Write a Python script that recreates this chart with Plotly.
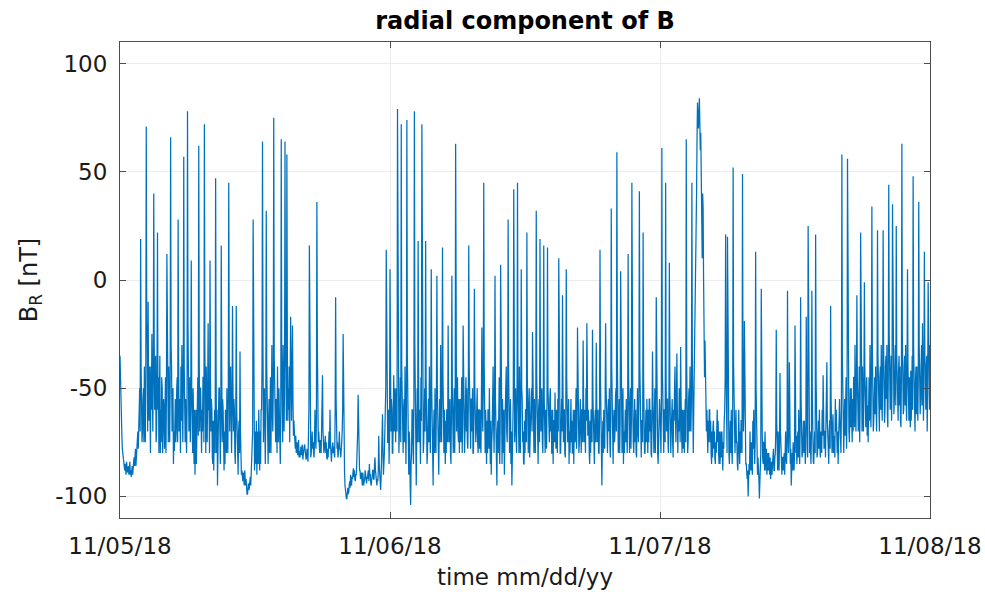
import pandas as pd
import plotly.graph_objects as go

day1_br = [
    -35,-50,-60,-70,-72,-78,-80,-83,-84,-86,-88,-85,-87,-90,-84,-88,-89,-87,-86,-90,-86,-84,-90,-88,
    -91,-89,-86,-90,-88,-85,-82,-86,-80,-78,-86,-82,-84,-75,-70,-78,-65,-72,-50,-70,19,-40,-60,-75,
    -70,-55,-50,-75,-40,-65,-75,-45,71,-20,-30,-70,-10,-55,-65,-40,-60,-80,-40,-60,-25,-50,-70,-45,
    40,-30,-60,-45,-35,-75,-70,-40,22,-60,-45,-80,-55,-35,-80,-60,-75,-45,-50,-80,-72,-55,-60,-78,
    -60,-45,-80,-55,12,-40,-55,-75,-40,-60,-75,-50,66,-30,-40,-70,-65,-50,-85,-70,-79,-60,-55,-75,
    -70,-50,-45,-75,28,-35,-70,-55,-60,-80,-40,-65,-30,-55,-75,-50,57,-40,-60,-75,-55,-80,-80,-60,
    78,-20,-40,-70,-60,-45,-75,-55,9,-50,-65,-80,-50,-70,-85,-60,-90,-75,-60,-85,-70,-50,-45,-72,
    62,-35,-70,-50,-50,-75,-80,-60,-70,-45,-45,-75,72,-30,-60,-80,-40,-65,-75,-50,-20,-60,-60,-80,
    9,-45,-70,-55,-60,-82,-85,-65,-88,-70,-60,-80,47,-40,-80,-60,-95,-75,-70,-50,-50,-75,-85,-65,
    16,-40,-75,-55,-60,-80,-88,-70,-85,-60,-65,-80,-50,-70,-80,-55,45,-35,-70,-50,-40,-75,-80,-60,
    -12,-50,-70,-55,-60,-80,-85,-65,-12,-60,-75,-85,-90,-70,-65,-80,-33,-70,-85,-90,-88,-92,-93,-89,
    -92,-95,-88,-94,-95,-92,-97,-99,-99,-95,-94,-97,-96,-93,-91,-95,-90,-86,-80,-70,28,-50,-75,-88,
    -70,-80,-85,-65,-90,-75,-70,-85,-60,-75,-88,-70,-85,-60,-60,-40,64,-30,-75,-55,-50,-80,-85,-60,
    32,-40,-70,-55,-85,-65,-55,-80,-60,-45,-80,-65,-30,-60,-70,-50,75,-35,-50,-70,-75,-55,-60,-80,
    -40,-65,-75,-50,-60,-80,-85,-60,65,-35,-55,-75,-30,-60,-70,-50,64,-40,-40,-65,58,-30,-65,-50,
    -60,-40,-75,-50,-17,-45,-65,-40,-21,-55,-72,-65,-70,-76,-78,-72,-80,-76,-75,-81,-78,-74,-82,-79,
    -82,-78,-77,-81,-79,-76,-83,-80,-81,-77,-76,-80,-78,-83,-82,-78,-80,-84,-75,-60,16,-50,-78,-82,
    -80,-76,-70,-78,-75,-80,-82,-74,-60,-72,-78,-65,36,-30,-65,-75,-70,-78,-80,-74,-76,-80,-70,-60,
    -44,-70,-76,-80,-78,-74,-72,-80,-75,-82,-83,-78,-82,-76,-70,-78,-60,-75,-80,-84,-80,-76,-75,-80,
    -77,-80,-82,-60,-8,-55,-72,-78,-75,-82,-80,-76,-70,-78,-78,-82,-80,-75,-70,-60,-25,-65,-80,-88,
    -95,-98,-99,-101,-101,-97,-96,-99,-98,-95,-93,-96,-90,-94,-95,-91,-92,-89,-87,-91,-88,-92,-93,-90,
    -90,-85,-80,-70,-53,-75,-82,-88,-88,-92,-91,-89,-93,-95,-89,-92,-95,-93,-92,-88,-90,-94,-94,-91,
    -92,-89,-88,-93,-85,-90,-90,-94,-95,-92,-91,-88,-88,-92,-92,-85,-82,-88,-90,-94,-95,-92,-93,-88,
    -72,-85,-88,-94,-97,-92,-85,-75,-62,-80,-90,-85,-80,-70,-70,-50,14,-40,-60,-75,-75,-60,-85,-70,
]
day2_br = [
    5,-40,-70,-55,-60,-80,-80,-60,-44,-70,-65,-50,-75,-60,-50,-70,79,-30,-60,-80,-70,-50,-45,-75,
    72,-40,-65,-80,-80,-60,-55,-75,-40,-65,-85,-60,74,-35,-60,-85,-90,-70,-75,-95,-104,-85,-80,-60,
    -60,-75,-85,-55,78,-30,-70,-85,-95,-70,-50,-75,18,-45,-75,-60,-70,-85,-45,-65,72,-35,-65,-80,
    -75,-55,-50,-70,18,-45,-70,-85,-80,-60,-55,-75,-40,-65,-80,-55,5,-50,-70,-85,-95,-70,-60,-80,
    -50,-70,-80,-55,2,-50,-65,-85,-90,-70,-55,-75,-30,-60,-75,-50,15,-45,-65,-80,-60,-75,-85,-65,
    -80,-60,-60,-75,-21,-55,-75,-60,-55,-80,-85,-65,2,-50,-70,-80,-65,-50,-80,-60,63,-35,-70,-55,
    -45,-70,-75,-55,-80,-60,-55,-75,-60,-45,-80,-65,-21,-55,-65,-80,-70,-50,-45,-70,-50,-75,-78,-60,
    16,-40,-60,-75,-78,-55,-55,-70,-50,-80,-80,-60,-4,-50,-65,-75,-70,-55,-50,-75,-80,-60,-60,-78,
    -60,-75,-80,-55,-22,-60,-70,-50,45,-40,-65,-80,-60,-75,-85,-65,-80,-60,-60,-78,-50,-70,-85,-65,
    -90,-75,-70,-55,-40,-65,-80,-60,2,-55,-75,-85,-95,-70,-65,-80,-60,-45,-85,-70,7,-50,-70,-85,
    -55,-75,-80,-60,-90,-75,-60,-45,-40,-70,-75,-55,28,-40,-60,-80,-70,-55,-85,-70,-95,-80,-70,-55,
    42,-40,-75,-60,-50,-70,-80,-55,45,-45,-60,-80,-40,-65,-80,-60,5,-50,-55,-75,-70,-85,-85,-65,
    -80,-60,-60,-75,22,-45,-65,-80,-60,-50,-82,-65,-75,-55,-50,-70,-24,-55,-70,-80,-55,-70,-80,-60,
    32,-45,-65,-80,-85,-60,-55,-75,19,-50,-70,-55,-50,-75,-80,-60,16,-55,-65,-80,-60,-70,-78,-55,
    15,-50,-60,-75,-75,-55,-50,-70,-60,-80,-80,-60,-85,-65,-65,-75,-52,-70,-78,-60,-70,-80,-55,-70,
    10,-50,-65,-80,-80,-60,-55,-70,-7,-50,-75,-60,-60,-80,-82,-65,5,-45,-60,-75,-70,-55,-85,-70,
    -80,-60,-55,-75,-65,-80,-80,-60,-85,-70,-60,-75,-60,-50,-78,-65,-22,-55,-65,-80,-75,-60,-55,-70,
    -80,-60,-60,-75,-28,-55,-75,-60,-70,-80,-50,-65,-20,-50,-72,-60,-65,-80,-85,-65,-80,-60,-60,-75,
    -23,-55,-70,-80,-85,-65,-60,-75,-29,-55,-75,-60,-60,-80,-80,-65,14,-45,-70,-80,-95,-75,-65,-80,
    -60,-75,-78,-55,-20,-50,-65,-80,-80,-60,-55,-70,-50,-75,-82,-65,33,-40,-65,-80,-85,-65,-60,-75,
    -70,-55,-50,-70,59,-35,-60,-80,-70,-55,-80,-65,4,-50,-65,-80,-65,-50,-85,-70,-80,-60,-60,-75,
    -55,-70,-80,-60,12,-45,-70,-80,-60,-50,-78,-65,45,-40,-60,-75,-80,-65,-55,-75,-60,-80,-82,-65,
    -50,-70,-75,-55,41,-40,-60,-80,-82,-65,-65,-75,22,-45,-70,-80,-80,-60,-60,-75,-55,-70,-80,-60,
    -75,-55,-55,-70,-60,-80,-82,-65,-33,-55,-70,-80,-65,-50,-80,-65,-8,-50,-65,-80,-85,-70,-70,-55,
]
day3_br = [
    -60,-75,-80,-60,61,-40,-65,-80,-80,-60,-60,-75,45,-45,-70,-55,-55,-75,-80,-60,8,-50,-65,-80,
    -70,-55,-55,-75,-82,-60,-65,-50,-40,-65,-75,-55,-34,-60,-80,-65,-70,-50,-55,-75,-31,-55,-70,-80,
    -60,-75,-78,-60,-80,-65,-55,-75,65,-40,-60,-80,-75,-55,-50,-70,-40,-60,-70,-55,45,-35,-65,-80,
    -60,-45,-40,-20,5,20,40,65,82,75,70,80,84,72,60,68,55,30,10,40,33,0,-20,-45,
    -28,-50,-55,-70,-60,-78,-80,-65,-75,-60,-60,-75,-65,-80,-85,-70,-82,-68,-65,-78,-70,-82,-85,-75,
    -80,-70,-60,-75,-65,-80,-85,-70,-85,-78,-70,-82,-70,-85,-88,-75,-78,-65,-60,-45,21,-40,-70,-80,
    20,-45,-70,-80,-85,-70,-65,-80,-60,-75,-85,-70,52,-40,-65,-80,-80,-70,-60,-75,-75,-85,-88,-78,
    -60,-75,-85,-70,-80,-65,-65,-80,49,-40,-70,-60,-19,-60,-75,-85,-85,-90,-92,-88,-100,-92,-85,-90,
    -70,-82,-88,-75,-85,-90,-65,-78,-60,-80,-85,-75,13,-50,-75,-85,-90,-82,-85,-92,-101,-90,-88,-80,
    -4,-60,-70,-82,-85,-75,-75,-88,-70,-80,-88,-78,-90,-85,-80,-88,-80,-85,-90,-82,-92,-86,-84,-90,
    -85,-80,-78,-88,-88,-82,-80,-70,-23,-65,-80,-88,-70,-80,-88,-75,-43,-70,-75,-85,-90,-82,-82,-88,
    -85,-80,-90,-84,-70,-82,-85,-75,-5,-60,-80,-70,-38,-65,-85,-78,-95,-85,-80,-88,-75,-82,-88,-80,
    -21,-65,-80,-72,-85,-78,-70,-82,-60,-75,-85,-70,-8,-55,-75,-82,-80,-70,-65,-80,-65,-75,-85,-78,
    -17,-60,-75,-82,25,-45,-65,-80,-70,-78,-85,-72,-5,-55,-78,-84,-85,-75,-70,-80,21,-45,-72,-82,
    -80,-70,-65,-78,-60,-75,-82,-70,-75,-80,-60,-72,-44,-65,-78,-70,-70,-82,-55,-70,-38,-65,-75,-82,
    -85,-70,-65,-78,-12,-55,-72,-80,-70,-62,-80,-72,-75,-82,-55,-70,-60,-78,-80,-70,-85,-75,-65,-55,
    -65,-78,-80,-60,58,-35,-60,-75,-80,-65,-55,-72,-60,-45,-78,-60,56,-30,-55,-70,-75,-60,-50,-68,
    -50,-65,-75,-55,-70,-45,-45,-68,-30,-55,-70,-50,-7,-45,-55,-70,-60,-40,-75,-55,22,-35,-50,-70,
    -40,-60,-70,-50,-1,-40,-50,-68,-55,-45,-72,-58,-75,-50,-45,-65,-30,-55,-68,-45,34,-30,-55,-70,
    -65,-45,-45,-62,-40,-58,-70,-50,23,-35,-50,-68,-70,-45,-40,-60,-30,-55,-65,-45,23,-30,-50,-66,
    -60,-40,-35,-55,-30,-62,-68,-45,44,-25,-40,-60,-50,-35,-65,-48,35,-30,-45,-62,-55,-40,-30,-58,
    25,-35,-55,-65,-65,-42,-35,-58,-40,-65,-68,-45,63,-25,-45,-62,-60,-40,-35,-58,-30,-52,-65,-45,
    5,-40,-55,-65,-45,-60,-68,-42,-65,-50,-35,-60,48,-30,-50,-66,-70,-48,-40,-62,-40,-55,-65,-45,
    36,-30,-45,-62,-55,-40,-30,-58,-20,-45,-65,-50,13,-35,-40,-60,-50,-35,-70,-52,-1,-30,-45,-60,
    -30,
]

br_values = day1_br + day2_br + day3_br
times = pd.date_range("2018-11-05 00:00", periods=len(br_values), freq="150s")

x_tick_dates = ["2018-11-05", "2018-11-06", "2018-11-07", "2018-11-08"]
x_tick_labels = ["11/05/18", "11/06/18", "11/07/18", "11/08/18"]
y_tick_vals = [-100, -50, 0, 50, 100]
y_tick_labels = ["-100", "-50", "0", "50", "100"]

FONT = "DejaVu Sans"
TXT = "#1a1a1a"

fig = go.Figure()
fig.add_trace(go.Scatter(
    x=times, y=br_values, mode="lines",
    line=dict(color="#0072BD", width=1.25),
    showlegend=False,
))

fig.update_layout(
    width=985, height=592,
    margin=dict(l=120, r=55, t=42, b=74, autoexpand=False),
    paper_bgcolor="white", plot_bgcolor="white",
    font=dict(family=FONT, size=22, color=TXT),
    title=dict(
        text="<b>radial component of B</b>",
        font=dict(family=FONT, size=24, color="#000000"),
        x=0.5, xref="paper", xanchor="center",
        y=1 - 21 / 592, yref="container", yanchor="middle",
    ),
)

fig.update_xaxes(
    type="date", automargin=False,
    range=["2018-11-05 00:00", "2018-11-08 00:00"],
    tickmode="array", tickvals=x_tick_dates, ticktext=x_tick_labels,
    ticks="inside", ticklen=6, tickcolor="#4d4d4d",
    showline=True, linecolor="#4d4d4d", linewidth=1, mirror="ticks",
    showgrid=True, gridcolor="#ececec", gridwidth=1,
    zeroline=False,
    tickfont=dict(family=FONT, size=23, color=TXT),
    ticklabelstandoff=7,
    title=dict(text="time mm/dd/yy", font=dict(family=FONT, size=23, color=TXT), standoff=11),
)
fig.update_yaxes(
    automargin=False,
    range=[-110, 110],
    tickmode="array", tickvals=y_tick_vals, ticktext=y_tick_labels,
    ticks="inside", ticklen=6, tickcolor="#4d4d4d",
    showline=True, linecolor="#4d4d4d", linewidth=1, mirror="ticks",
    showgrid=True, gridcolor="#ececec", gridwidth=1,
    zeroline=False,
    tickfont=dict(family=FONT, size=23, color=TXT),
    ticklabelstandoff=7,
    title=dict(text="B<sub>R</sub> [nT]", font=dict(family=FONT, size=24, color=TXT), standoff=10),
)

fig.write_html(
    "out.html",
    config={"displayModeBar": False},
    post_script="document.body.style.margin='0';document.body.style.overflow='hidden';",
)
